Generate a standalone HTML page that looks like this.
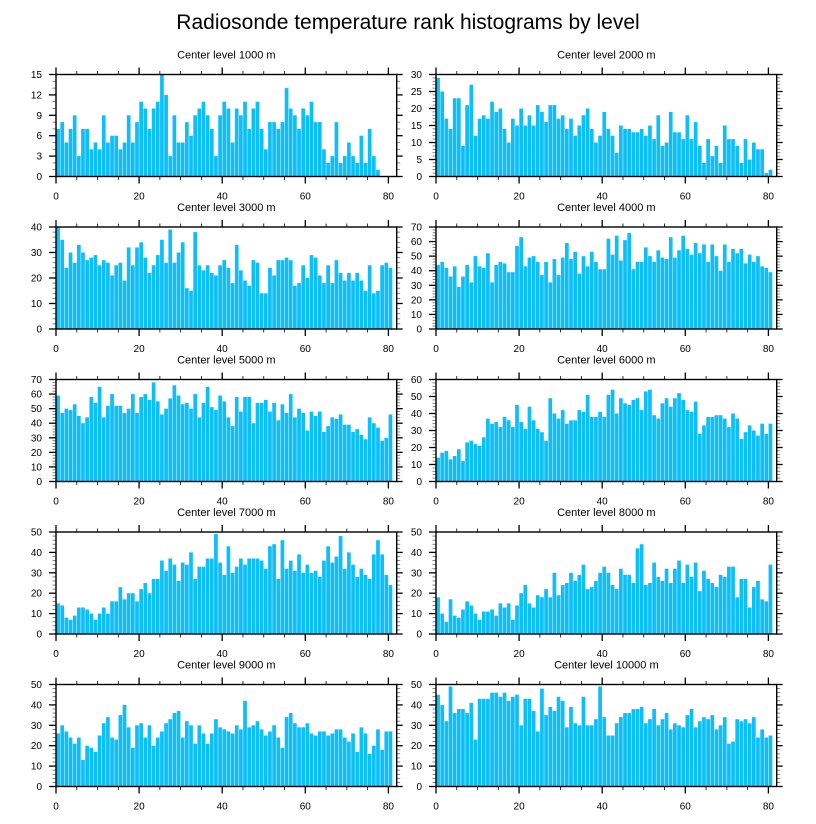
<!DOCTYPE html>
<html><head><meta charset="utf-8"><style>
html,body{margin:0;padding:0;background:#fff;}
svg{display:block;font-family:"Liberation Sans",Arial,sans-serif;}
</style></head><body>
<svg id="chart" width="816" height="824" viewBox="0 0 816 824" xmlns="http://www.w3.org/2000/svg">
<text x="408" y="29" text-anchor="middle" font-size="21" fill="#000">Radiosonde temperature rank histograms by level</text>
</svg>
<script>
const levels = ["1000","2000","3000","4000","5000","6000","7000","8000","9000","10000"];
const yMax = [15,30,40,70,70,60,50,50,50,50];
const yStep = [3,5,10,10,10,10,10,10,10,10];
const xTicks = [0,20,40,60,80];
const c1000 = [7,8,5,7,9,3,7,7,4,5,4,9,5,6,6,4,5,9,5,8,11,10,7,10,11,15,12,3,9,5,5,8,6,9,10,11,9,7,3,9,11,10,5,10,9,11,7,10,11,7,4,8,8,7,8,13,10,9,7,10,9,11,8,8,4,2,3,8,2,3,5,3,2,6,2,7,3,1];
const c2000 = [29,25,17,14,23,23,9,21,27,12,17,18,17,22,19,20,14,10,17,15,20,15,18,15,21,19,16,21,21,17,18,14,17,12,15,18,20,14,10,12,19,14,12,7,15,14,14,13,13,14,12,15,11,18,9,10,19,13,13,11,18,11,16,9,4,11,6,9,4,15,11,11,9,4,11,5,10,8,8,1,2];
const c3000 = [40,35,24,30,26,33,30,27,28,29,25,27,26,21,25,26,19,32,25,32,34,28,22,25,29,35,26,39,26,30,34,16,15,38,25,23,25,22,21,25,27,24,18,33,23,19,17,27,26,14,14,24,21,27,27,28,27,17,18,25,20,29,28,21,18,25,18,27,22,19,22,19,22,19,15,25,14,15,25,26,24];
const c4000 = [44,46,42,36,43,29,36,44,32,50,43,42,52,32,44,46,45,39,39,57,63,43,49,50,46,37,46,32,48,37,49,59,48,53,38,50,43,53,46,41,41,62,51,64,47,61,66,41,46,46,56,50,46,54,49,48,63,49,54,64,55,51,59,52,58,46,58,50,40,58,46,55,52,55,45,51,46,50,43,42,39];
const c5000 = [59,47,50,49,53,45,40,44,58,54,65,44,52,60,52,52,47,50,60,47,58,60,56,68,55,46,50,57,66,59,53,54,50,60,44,54,65,51,49,59,55,44,38,58,48,58,58,40,54,54,56,48,54,42,53,47,60,44,50,47,35,48,45,48,34,38,44,43,46,39,39,34,36,32,29,44,40,37,28,30,46];
const c6000 = [14,17,18,13,15,19,12,23,24,22,21,26,37,34,35,32,38,36,32,45,35,31,44,36,31,29,24,49,40,37,42,34,36,36,42,41,51,38,38,41,38,51,54,40,49,46,45,48,49,42,53,54,39,37,46,49,44,49,52,48,42,41,47,28,33,38,38,39,39,37,32,40,37,25,29,33,30,27,34,28,34];
const c7000 = [15,14,8,7,9,13,13,12,10,7,10,13,10,16,16,23,17,20,20,16,22,25,20,27,27,36,31,37,34,26,35,34,40,27,33,33,37,37,49,35,29,43,30,33,37,34,37,37,37,36,32,43,44,27,46,32,36,31,39,30,34,30,31,28,36,43,35,38,48,32,40,34,28,32,29,27,39,46,39,29,24];
const c8000 = [18,10,6,17,9,8,12,16,14,10,7,11,11,12,9,15,13,15,7,14,20,24,15,13,19,18,22,18,30,19,24,25,30,26,29,34,22,23,26,30,33,30,24,22,32,29,29,25,42,44,24,25,35,28,26,32,25,32,36,25,34,28,35,21,31,27,25,23,29,28,33,33,18,27,27,13,23,26,17,16,34];
const c9000 = [26,30,27,24,21,24,13,20,19,17,25,31,34,24,23,35,40,29,19,30,31,24,30,20,24,27,31,33,36,37,24,32,30,21,30,26,21,26,33,29,28,27,26,30,28,42,29,30,32,28,25,27,30,24,19,34,36,31,29,29,31,26,25,27,27,25,26,28,28,24,22,26,17,29,26,16,20,28,18,27,27];
const c10000 = [45,40,32,49,36,38,38,36,41,23,43,43,43,46,46,44,46,42,44,45,30,43,43,37,27,48,35,39,37,44,42,29,39,31,30,44,30,30,33,49,34,25,25,31,34,36,36,38,38,39,31,33,38,30,33,36,28,31,30,29,35,38,29,32,34,33,35,28,30,34,21,22,33,32,33,31,34,24,28,24,25];
const series = [c1000,c2000,c3000,c4000,c5000,c6000,c7000,c8000,c9000,c10000];

const NS = "http://www.w3.org/2000/svg";
const svg = document.getElementById("chart");
const X_MAX = 82;
const PW = 340.7, PH = 102;
const colX = [56, 436];
const rowY = [74.5, 227, 379.5, 532, 684.5];

function mk(tag, attrs, parent) {
  const e = document.createElementNS(NS, tag);
  for (const k in attrs) e.setAttribute(k, attrs[k]);
  parent.appendChild(e);
  return e;
}

series.forEach((vals, p) => {
  const x0 = colX[p % 2], y0 = rowY[Math.floor(p / 2)];
  const sx = v => x0 + v / X_MAX * PW;
  const sy = v => y0 + PH - v / yMax[p] * PH;
  const g = mk("g", {}, svg);
  
  

  const t = mk("text", {x: x0 + PW / 2, y: y0 - 16, "text-anchor": "middle", "font-size": "11"}, g);
  t.textContent = "Center level " + levels[p] + " m";
  
  

  vals.forEach((v, i) => {
    const r = mk("rect", {x: sx(i) + 0.2, y: sy(v), width: PW / X_MAX - 0.45, height: sy(0) - sy(v), fill: "#0CBFF9"}, g);
    
    
  });

  for (let v = 0; v <= 80; v += 5) {
    const major = v % 20 === 0;
    const L = major ? 7 : 3.5;
    mk("line", {x1: sx(v), x2: sx(v), y1: y0 + PH, y2: y0 + PH + L, stroke: "#000", "stroke-width": major ? 1.3 : 0.8}, g);
    mk("line", {x1: sx(v), x2: sx(v), y1: y0, y2: y0 - L, stroke: "#000", "stroke-width": major ? 1.3 : 0.8}, g);
  }
  xTicks.forEach(v => {
    const lb = mk("text", {x: sx(v), y: y0 + PH + 23, "text-anchor": "middle", "font-size": "10"}, g);
    lb.textContent = v;
    
    
  });
  const minor = yStep[p] === 3 ? 1 : yStep[p] / 5;
  for (let v = 0; v <= yMax[p] + 1e-9; v += minor) {
    const major = Math.abs(v / yStep[p] - Math.round(v / yStep[p])) < 1e-6;
    const L = major ? 7 : 3.5;
    mk("line", {x1: x0, x2: x0 - L, y1: sy(v), y2: sy(v), stroke: major ? "#000" : "#666", "stroke-width": major ? 1.3 : 0.8}, g);
    mk("line", {x1: x0 + PW, x2: x0 + PW + (major ? 6 : 3.5), y1: sy(v), y2: sy(v), stroke: major ? "#000" : "#666", "stroke-width": major ? 1.3 : 0.8}, g);
  }
  for (let v = 0; v <= yMax[p]; v += yStep[p]) {
    const lb = mk("text", {x: x0 - 14, y: sy(v) + 3.5, "text-anchor": "end", "font-size": "10"}, g);
    lb.textContent = v;
    
    
  }
  const fr = mk("rect", {x: x0, y: y0, width: PW, height: PH, fill: "none", stroke: "#000", "stroke-width": 1.4}, g);
  
  
});
</script>
</body></html>
